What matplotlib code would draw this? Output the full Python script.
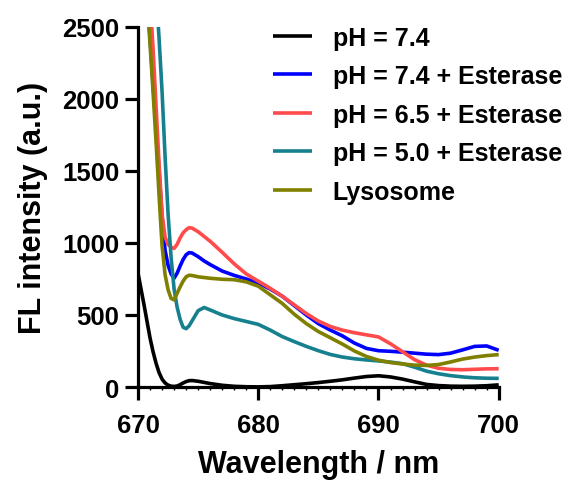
import matplotlib
matplotlib.use("Agg")
import matplotlib.pyplot as plt
from matplotlib.ticker import MultipleLocator

plt.rcParams["font.family"] = ["Liberation Sans", "DejaVu Sans"]
plt.rcParams["font.weight"] = "bold"

# Emission wavelengths (nm); finer sampling across the scatter edge
wavelength = [670, 670.5, 671, 671.25, 671.5, 671.75, 672, 672.25, 672.5, 672.75,
              673, 673.25, 673.5, 673.75, 674, 674.25, 674.5, 675, 675.5, 676,
              677, 678, 679, 680, 681, 682, 683, 684, 685, 686, 687, 688, 689, 690,
              691, 692, 693, 694, 695, 696, 697, 698, 699, 700]

# Fluorescence intensity (a.u.)
ph74 = [790, 570, 340, 245, 165, 100, 55, 28, 13, 6,
        4, 7, 16, 28, 38, 44, 45, 40, 32, 24,
        12, 5, 2, 1, 3, 9, 16, 23, 31, 40, 50, 62, 73, 78,
        70, 55, 36, 18, 10, 6, 5, 6, 9, 15]
ph74_est = [3600, 3050, 2420, 2100, 1800, 1500, 1180, 950, 845, 785,
            755, 790, 840, 885, 918, 933, 930, 905, 875, 850,
            805, 775, 750, 722, 680, 630, 565, 500, 440, 395, 355, 305, 268, 252,
            248, 242, 235, 228, 225, 235, 258, 282, 285, 255]
ph65_est = [4300, 3400, 2700, 2350, 1950, 1550, 1200, 1040, 990, 970,
            962, 990, 1035, 1070, 1092, 1106, 1103, 1078, 1045, 1012,
            935, 855, 785, 735, 685, 630, 570, 510, 458, 420, 395, 377, 362, 348,
            300, 245, 190, 152, 130, 122, 120, 123, 126, 127]
ph50_est = [4800, 4100, 3400, 3050, 2750, 2420, 2050, 1600, 1200, 900,
            680, 555, 470, 415, 405, 425, 460, 530, 552, 535,
            500, 475, 455, 435, 395, 350, 315, 282, 252, 226, 208, 196, 188, 181,
            173, 162, 138, 110, 92, 79, 70, 64, 61, 60]
lysosome = [3600, 3000, 2380, 2050, 1700, 1330, 980, 780, 675, 615,
            605, 650, 695, 735, 765, 776, 774, 765, 760, 755,
            748, 745, 730, 700, 640, 580, 505, 440, 385, 342, 298, 250, 212, 186,
            170, 160, 152, 150, 156, 174, 194, 208, 218, 225]

labels = ["pH = 7.4", "pH = 7.4 + Esterase", "pH = 6.5 + Esterase",
          "pH = 5.0 + Esterase", "Lysosome"]
colors = ["#000000", "#0000FF", "#FF4B4B", "#16808F", "#808000"]
series = [ph74, ph74_est, ph65_est, ph50_est, lysosome]

fig = plt.figure(figsize=(5.68, 4.89), dpi=100)
ax = fig.add_axes([0.243, 0.2065, 0.635, 0.7365])

for y, c, lab in zip(series, colors, labels):
    ax.plot(wavelength, y, color=c, lw=2.6, label=lab,
            solid_joinstyle="round", solid_capstyle="butt")

ax.set_xlim(670, 700)
ax.set_ylim(0, 2500)
ax.xaxis.set_major_locator(MultipleLocator(10))
ax.xaxis.set_minor_locator(MultipleLocator(1))
ax.yaxis.set_major_locator(MultipleLocator(500))

for side in ("top", "right"):
    ax.spines[side].set_visible(False)
for side in ("left", "bottom"):
    ax.spines[side].set_linewidth(2.3)

ax.tick_params(axis="both", which="major", length=9.5, width=2.3,
               labelsize=18.5, pad=4)
ax.tick_params(axis="x", which="major", pad=9)
ax.tick_params(axis="x", which="minor", length=2.5, width=1.0)
for t in ax.get_xticklabels() + ax.get_yticklabels():
    t.set_fontweight("bold")

ax.set_xlabel("Wavelength / nm", fontsize=22, fontweight="bold", labelpad=9)
ax.set_ylabel("FL intensity (a.u.)", fontsize=22, fontweight="bold", labelpad=10)

ax.legend(loc="upper left", bbox_to_anchor=(0.346, 1.031), frameon=False,
          handlelength=1.55, handletextpad=0.85,
          labelspacing=0.58, borderaxespad=0, prop={"weight": "bold", "size": 18})

fig.savefig("out.png", dpi=100)
